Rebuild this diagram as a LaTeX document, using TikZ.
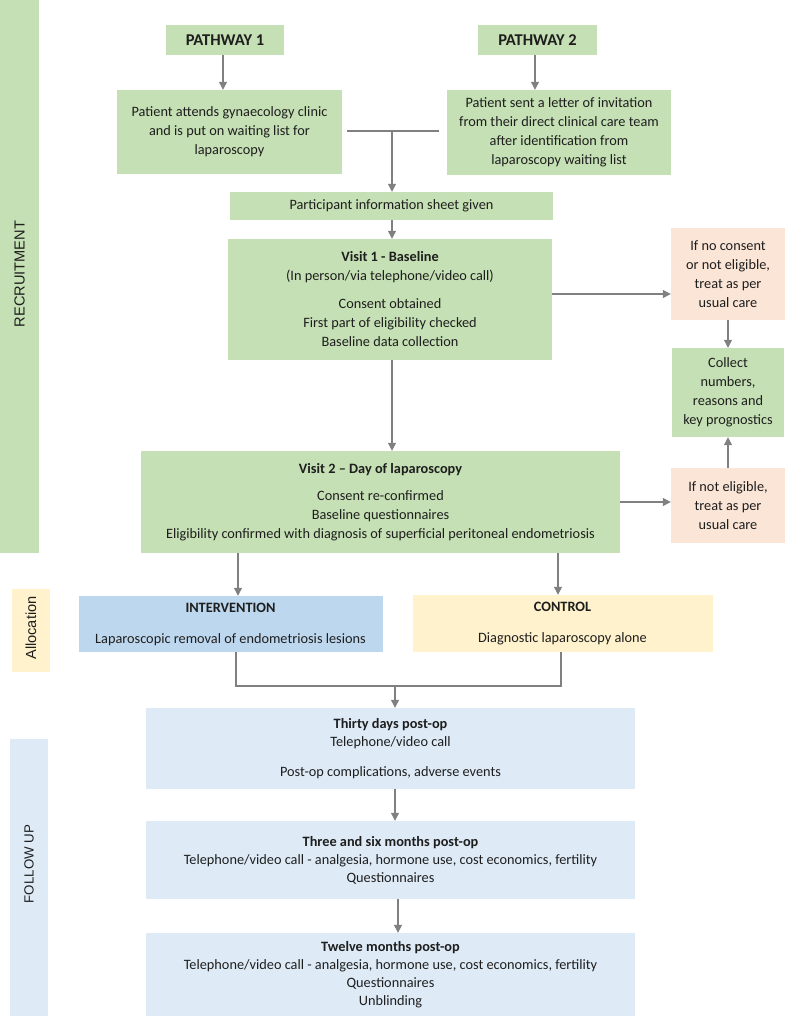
\documentclass[tikz,border=0pt]{standalone}
\usepackage{fontspec}
\setmainfont{Carlito}
\newfontfamily\sidefont{Liberation Sans}
\usetikzlibrary{arrows.meta}
\definecolor{stagegreen}{RGB}{197,224,180}
\definecolor{exitpeach}{RGB}{251,229,214}
\definecolor{armblue}{RGB}{189,215,238}
\definecolor{armyellow}{RGB}{255,242,204}
\definecolor{followblue}{RGB}{222,235,247}
\definecolor{linkgray}{RGB}{128,128,128}
\definecolor{inkgray}{RGB}{30,30,30}

\begin{document}
\begin{tikzpicture}[x=1pt, y=-1pt,
    box/.style ={align=center, inner sep=0pt, text=inkgray,
                 font=\fontsize{14.3}{19}\selectfont},
    stage/.style ={box, fill=stagegreen},
    pathway/.style ={stage, font=\fontsize{16.5}{19}\selectfont\bfseries},
    exitbox/.style ={box, fill=exitpeach},
    followbox/.style ={box, fill=followblue, font=\fontsize{14.3}{18}\selectfont},
    sidelabel/.style ={rotate=90, text=inkgray, font=\sidefont\fontsize{14.6}{16}\selectfont},
    link/.style ={draw=linkgray, line width=1.2pt},
    arrow/.style ={link, -{Triangle[length=8pt,width=8pt]}}]
   \useasboundingbox (0,0) rectangle (787,1016);

   % side bars
   \fill[stagegreen] (0,0) rectangle (39,553);
   \fill[armyellow]  (12,589) rectangle (50,672);
   \fill[followblue] (10,739) rectangle (48,1016);
   \node[sidelabel] (REC)   at (19.5,274) {RECRUITMENT};
   \node[sidelabel] (ALLOC) at (31,628)   {Allocation};
   \node[sidelabel, font=\sidefont\fontsize{13.3}{16}\selectfont] (FU) at (29,864) {FOLLOW UP};

   % recruitment
   \node[pathway, minimum width=118, minimum height=30] (P1) at (225,40) {PATHWAY 1};
   \node[pathway, minimum width=119, minimum height=30] (P2) at (537.5,40) {PATHWAY 2};
   \node[stage, minimum width=225, minimum height=84] (PA) at (229.5,132)
      {Patient attends gynaecology clinic\\and is put on waiting list for\\laparoscopy};
   \node[stage, minimum width=224, minimum height=85] (PB) at (559,132.5)
      {Patient sent a letter of invitation\\from their direct clinical care team\\after identification from\\laparoscopy waiting list};
   \node[stage, minimum width=323, minimum height=28] (INFO) at (391.5,206)
      {Participant information sheet given};
   \node[stage, minimum width=324, minimum height=121] (V1) at (390,299.5)
      {\textbf{Visit 1 - Baseline}\\(In person/via telephone/video call)\\[9pt]Consent obtained\\First part of eligibility checked\\Baseline data collection};
   \node[stage, minimum width=479, minimum height=102] (V2) at (380.5,502)
      {\textbf{Visit 2 -- Day of laparoscopy}\\[8pt]Consent re-confirmed\\Baseline questionnaires\\Eligibility confirmed with diagnosis of superficial peritoneal endometriosis};
   \node[exitbox, minimum width=114, minimum height=92] (NC) at (728,274)
      {If no consent\\or not eligible,\\treat as per\\usual care};
   \node[stage, minimum width=112, minimum height=89] (CO) at (728,392.5)
      {Collect\\numbers,\\reasons and\\key prognostics};
   \node[exitbox, minimum width=114, minimum height=75] (NE) at (728,505.5)
      {If not eligible,\\treat as per\\usual care};

   % allocation
   \node[box, fill=armblue, minimum width=304, minimum height=56] (INT) at (230.5,624)
      {\textbf{INTERVENTION}\\[12pt]Laparoscopic removal of endometriosis lesions};
   \node[box, fill=armyellow, minimum width=300, minimum height=57] (CON) at (562.5,623.5)
      {\textbf{CONTROL}\\[12pt]Diagnostic laparoscopy alone};

   % follow up
   \node[followbox, minimum width=489, minimum height=81] (T30) at (390.5,748.5)
      {\textbf{Thirty days post-op}\\Telephone/video call\\[12pt]Post-op complications, adverse events};
   \node[followbox, minimum width=489, minimum height=78] (T36) at (390.5,860)
      {\textbf{Three and six months post-op}\\Telephone/video call - analgesia, hormone use, cost economics, fertility\\Questionnaires};
   \node[followbox, minimum width=489, minimum height=83] (T12) at (390.5,974.5)
      {\textbf{Twelve months post-op}\\Telephone/video call - analgesia, hormone use, cost economics, fertility\\Questionnaires\\Unblinding};

   \coordinate (m1) at (347,131);
   \coordinate (m2) at (439,131);
   \coordinate (mj) at (392,131);
   \coordinate (j1) at (236,686);
   \coordinate (j2) at (561,686);
   \coordinate (j3) at (395,686);
   \coordinate (j4) at (398,686);

   \draw[arrow] (P1.south -| 223,0) -- (PA.north -| 223,0);
   \draw[arrow] (P2.south -| 535,0) -- (PB.north -| 535,0);
   \draw[link]  (m1) -- (m2);
   \draw[arrow] (mj) -- (mj |- INFO.north);
   \draw[arrow] (INFO.south -| mj) -- (V1.north -| mj);
   \draw[arrow] (V1.south -| mj) -- (V2.north -| mj);
   \draw[arrow] ([yshift=5.5pt]V1.east) -- ([yshift=5.5pt]V1.east -| NC.west);
   \draw[arrow] (NC.south) -- (CO.north);
   \draw[arrow] (NE.north) -- (CO.south);
   \draw[arrow] (V2.east) -- (V2.east -| NE.west);
   \draw[arrow] ([xshift=7.5pt]INT.north |- V2.south) -- ([xshift=7.5pt]INT.north);
   \draw[arrow] ([xshift=-4.5pt]CON.north |- V2.south) -- ([xshift=-4.5pt]CON.north);
   \draw[link]  (INT.south -| j1) -- (j1) -- (j2) -- (CON.south -| j2);
   \draw[arrow] (j3) -- (j3 |- T30.north);
   \draw[arrow] (T30.south -| j3) -- (T36.north -| j3);
   \draw[arrow] (T36.south -| j4) -- (T12.north -| j4);
 \end{tikzpicture}
\end{document}
